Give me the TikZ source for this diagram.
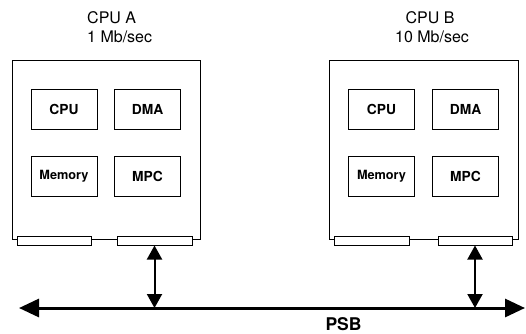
\documentclass[tikz,border=0pt]{standalone}
\usepackage{fontspec}
\setmainfont{TeX Gyre Heros}
\usetikzlibrary{arrows.meta}
\begin{document}
\begin{tikzpicture}[x=1pt,y=-1pt,
  board/.style={draw,line width=1pt,minimum height=179pt,inner sep=0pt},
  unit/.style={draw,line width=1pt,minimum width=66pt,minimum height=40pt,inner sep=0pt,font=\bfseries\fontsize{13.8}{14}\selectfont},
  tab/.style={draw,fill=white,line width=1pt,minimum height=9pt,inner sep=0pt},
  heading/.style={inner sep=0pt,font=\fontsize{16}{19}\selectfont},
  link/.style={line width=2pt,{Triangle[length=14pt,width=15pt]}-{Triangle[length=14pt,width=15pt]}},
  bus/.style={line width=3pt,{Triangle[length=20pt,width=18pt]}-{Triangle[length=20pt,width=18pt]}}]
\useasboundingbox (0,0) rectangle (526,333);
% labels
\node[heading,anchor=base west] (la1) at (87,23) {CPU A};
\node[heading,anchor=base west] (la2) at (87,42) {1 Mb/sec};
\node[heading,anchor=base] (lb1) at (430,23) {CPU B};
\node[heading,anchor=base] (lb2) at (432,42) {10 Mb/sec};
% boards
\node[board,minimum width=188pt] (bA) at (106,149.5) {};
\node[board,minimum width=189pt] (bB) at (423.5,149.5) {};
% units A
\node[unit] (cpuA) at (64,109) {CPU};
\node[unit] (dmaA) at (147.5,109) {DMA};
\node[unit,font=\bfseries\fontsize{12.7}{13}\selectfont] (memA) at (64,176) {Memory};
\node[unit] (mpcA) at (147.5,176) {MPC};
% units B
\node[unit] (cpuB) at (381.5,109) {CPU};
\node[unit] (dmaB) at (465.5,109) {DMA};
\node[unit,font=\bfseries\fontsize{12.7}{13}\selectfont] (memB) at (381.5,176) {Memory};
\node[unit] (mpcB) at (465.5,176) {MPC};
% edge tabs
\node[tab,minimum width=74pt] (tA1) at (54,240.5) {};
\node[tab,minimum width=75pt] (tA2) at (154.5,240.5) {};
\node[tab,minimum width=75pt] (tB1) at (371.5,240.5) {};
\node[tab,minimum width=74pt] (tB2) at (475,240.5) {};
% bus
\coordinate (busL) at (19,308);
\coordinate (busR) at (525,308);
\draw[bus] (busL) -- (busR);
\draw[link] (tA2.south) -- (tA2.south |- busL);
\draw[link] (tB2.south) -- (tB2.south |- busL);
\node[inner sep=0pt,anchor=base,font=\bfseries\fontsize{17.5}{18}\selectfont] (psb) at (343.5,330) {PSB};
\end{tikzpicture}
\end{document}
